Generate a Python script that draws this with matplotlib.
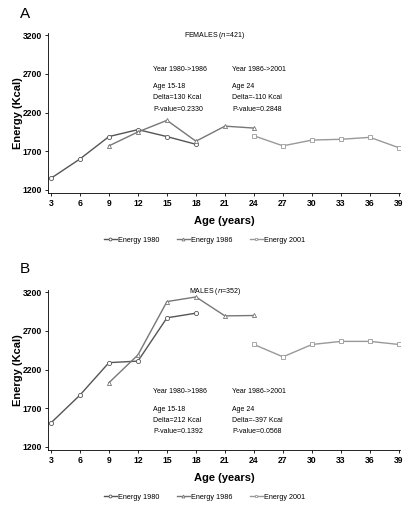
import matplotlib
matplotlib.use("Agg")
import matplotlib.pyplot as plt

plt.rcParams['font.family'] = ['Liberation Sans', 'DejaVu Sans']

age_1980 = [3, 6, 9, 12, 15, 18]
age_1986 = [9, 12, 15, 18, 21, 24]
age_2001 = [24, 27, 30, 33, 36, 39]

fem_1980 = [1350, 1600, 1890, 1980, 1890, 1790]
fem_1986 = [1770, 1950, 2100, 1830, 2025, 2000]
fem_2001 = [1900, 1770, 1845, 1855, 1880, 1745]

mal_1980 = [1510, 1870, 2290, 2310, 2870, 2930]
mal_1986 = [2030, 2390, 3080, 3140, 2895, 2900]
mal_2001 = [2525, 2365, 2525, 2565, 2565, 2525]

xticks = list(range(3, 40, 3))
yticks = [1200, 1700, 2200, 2700, 3200]

fem_notes1 = ["Year 1980->1986", "Age 15-18", "Delta=130 Kcal", "P-value=0.2330"]
fem_notes2 = ["Year 1986->2001", "Age 24", "Delta=-110 Kcal", "P-value=0.2848"]
mal_notes1 = ["Year 1980->1986", "Age 15-18", "Delta=212 Kcal", "P-value=0.1392"]
mal_notes2 = ["Year 1986->2001", "Age 24", "Delta=-397 Kcal", "P-value=0.0568"]

fig = plt.figure(figsize=(4.16, 5.11), dpi=100)

def panel(rect, d80, d86, d01, letter, letter_y, title, notes1, notes2, note_y):
    ax = fig.add_axes(rect)
    kw = dict(lw=1.0, ms=3.0, mfc='white', mew=0.6)
    ax.plot(age_1980, d80, '-o', color='#555555', mec='#555555', label='Energy 1980', **kw)
    ax.plot(age_1986, d86, '-^', color='#777777', mec='#777777', label='Energy 1986', **kw)
    ax.plot(age_2001, d01, '-s', color='#999999', mec='#999999', label='Energy 2001', **kw)
    ax.set_xlim(2.7, 39.1)
    ax.set_ylim(1160, 3230)
    ax.set_xticks(xticks)
    ax.set_yticks(yticks)
    for lab in ax.get_xticklabels() + ax.get_yticklabels():
        lab.set_fontweight('bold')
        lab.set_fontsize(6.2)
    ax.tick_params(length=2.5, width=0.6, pad=2)
    for s in ['top', 'right']:
        ax.spines[s].set_visible(False)
    for s in ['left', 'bottom']:
        ax.spines[s].set_linewidth(0.6)
    ax.set_xlabel('Age (years)', fontsize=8, fontweight='bold')
    ax.set_ylabel('Energy (Kcal)', fontsize=8, fontweight='bold')
    ax.xaxis.set_label_coords(0.5, -0.145)
    ax.yaxis.set_label_coords(-0.072, 0.5)
    ax.text(0.474, title[2], f"{title[0]} ($\\it{{n}}$={title[1]})", transform=ax.transAxes,
            ha='center', va='center', fontsize=5)
    dy = [0, -0.108, -0.178, -0.25]
    for i, t in enumerate(notes1):
        ax.text(0.298, note_y + dy[i], t, transform=ax.transAxes, ha='left', va='center', fontsize=5)
    for i, t in enumerate(notes2):
        ax.text(0.523, note_y + dy[i], t, transform=ax.transAxes, ha='left', va='center', fontsize=5)
    ax.legend(loc='center', bbox_to_anchor=(0.444, -0.294), ncol=3, frameon=False,
              fontsize=5.2, handlelength=1.8, handletextpad=0.15, columnspacing=2.4,
              markerscale=0.7)
    fig.text(20 / 416, letter_y, letter, fontsize=11, va='center', ha='left')
    return ax

panel([0.1154, 0.6223, 0.8461, 0.3131], fem_1980, fem_1986, fem_2001, 'A', 1 - 14 / 511,
      ('FEMALES', '421', 0.985), fem_notes1, fem_notes2, 0.775)
panel([0.1154, 0.1194, 0.8461, 0.3131], mal_1980, mal_1986, mal_2001, 'B', 1 - 269 / 511,
      ('MALES', '352', 0.99), mal_notes1, mal_notes2, 0.364)

fig.savefig('out.png', dpi=100)
